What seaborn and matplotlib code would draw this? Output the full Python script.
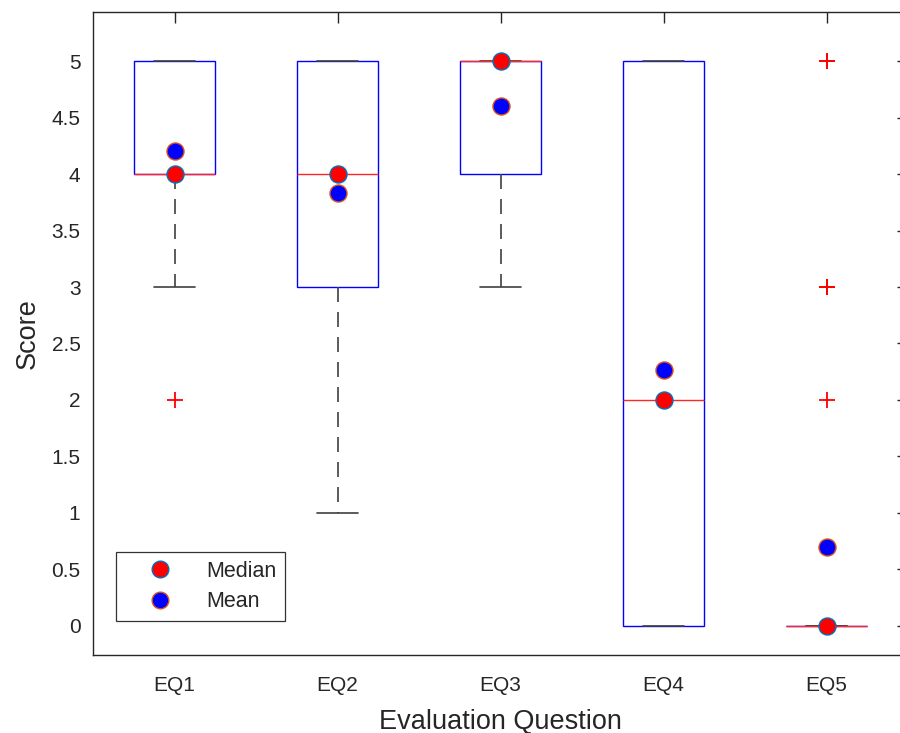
import numpy as np
import pandas as pd
import matplotlib
matplotlib.use("Agg")
import matplotlib.pyplot as plt
import seaborn as sns
from matplotlib.lines import Line2D

# Response counts per score (0..5) for each evaluation question
questions = ["EQ1", "EQ2", "EQ3", "EQ4", "EQ5"]
scores = [0, 1, 2, 3, 4, 5]
counts_eq1 = [0, 0, 1, 2, 17, 10]
counts_eq2 = [0, 1, 2, 7, 11, 9]
counts_eq3 = [0, 0, 0, 2, 8, 20]
counts_eq4 = [10, 3, 5, 2, 1, 9]
counts_eq5 = [24, 0, 1, 3, 0, 2]

all_counts = [counts_eq1, counts_eq2, counts_eq3, counts_eq4, counts_eq5]
rows = []
for q, cnts in zip(questions, all_counts):
    for s, c in zip(scores, cnts):
        rows += [(q, s)] * c
df = pd.DataFrame(rows, columns=["question", "score"])

sns.set_style("white")
plt.rcParams["font.family"] = ["Liberation Sans", "DejaVu Sans"]

fig = plt.figure(figsize=(9.0, 7.33), dpi=100)
ax = fig.add_axes([93 / 900, (733 - 655) / 733, (908 - 93) / 900, (655 - 12) / 733])

ML_BLUE = (0.0, 0.447, 0.741)
ML_ORANGE = (0.85, 0.325, 0.098)
GRAY = (0.25, 0.25, 0.25)

sns.boxplot(
    data=df, x="question", y="score", order=questions, ax=ax,
    width=0.5, whis=1.5, linewidth=1.0,
    boxprops=dict(facecolor="none", edgecolor="blue", linewidth=1.0),
    medianprops=dict(color=(1.0, 0.15, 0.15), linewidth=1.0),
    whiskerprops=dict(color=GRAY, linestyle=(0, (9, 6)), linewidth=1.2),
    capprops=dict(color=GRAY, linewidth=1.2),
    flierprops=dict(marker="+", markeredgecolor="red", markerfacecolor="none",
                    markersize=11, markeredgewidth=1.3, linestyle="none"),
)

stats = df.groupby("question", sort=False)["score"].agg(["median", "mean"]).reindex(questions).reset_index()
sns.scatterplot(data=stats, x="question", y="mean", ax=ax, s=150, color="blue",
                edgecolor=ML_ORANGE, linewidth=1.0, zorder=5, legend=False)
sns.scatterplot(data=stats, x="question", y="median", ax=ax, s=150, color="red",
                edgecolor=ML_BLUE, linewidth=1.0, zorder=6, legend=False)

ax.set_xlim(-0.5, 4.5)
ax.set_ylim(-0.257, 5.434)
ax.set_yticks(np.arange(0, 5.01, 0.5))
ax.set_yticklabels(["0", "0.5", "1", "1.5", "2", "2.5", "3", "3.5", "4", "4.5", "5"])

tick_color = (0.15, 0.15, 0.15)
ax.tick_params(axis="both", direction="in", length=8, width=1.0, colors=tick_color,
               labelsize=15, top=True, right=True)
ax.tick_params(axis="x", pad=15)
ax.tick_params(axis="y", pad=9)
for sp in ax.spines.values():
    sp.set_visible(True)
    sp.set_color(tick_color)
    sp.set_linewidth(1.0)

ax.set_xlabel("Evaluation Question", fontsize=19.5, color=tick_color, labelpad=10)
ax.set_ylabel("Score", fontsize=19.5, color=tick_color, labelpad=8)

handles = [
    Line2D([], [], marker="o", linestyle="none", markersize=12, markerfacecolor="red",
           markeredgecolor=ML_BLUE, label="Median"),
    Line2D([], [], marker="o", linestyle="none", markersize=12, markerfacecolor="blue",
           markeredgecolor=ML_ORANGE, label="Mean"),
]
leg = ax.legend(handles=handles, loc="lower left", bbox_to_anchor=(23 / 815, 34 / 643),
                fontsize=15.5, frameon=True, fancybox=False, edgecolor="black",
                handletextpad=0.5, borderpad=0.4, labelspacing=0.45, handlelength=3.3,
                borderaxespad=0)
leg.get_frame().set_linewidth(0.9)

fig.savefig("out.png", dpi=100)
